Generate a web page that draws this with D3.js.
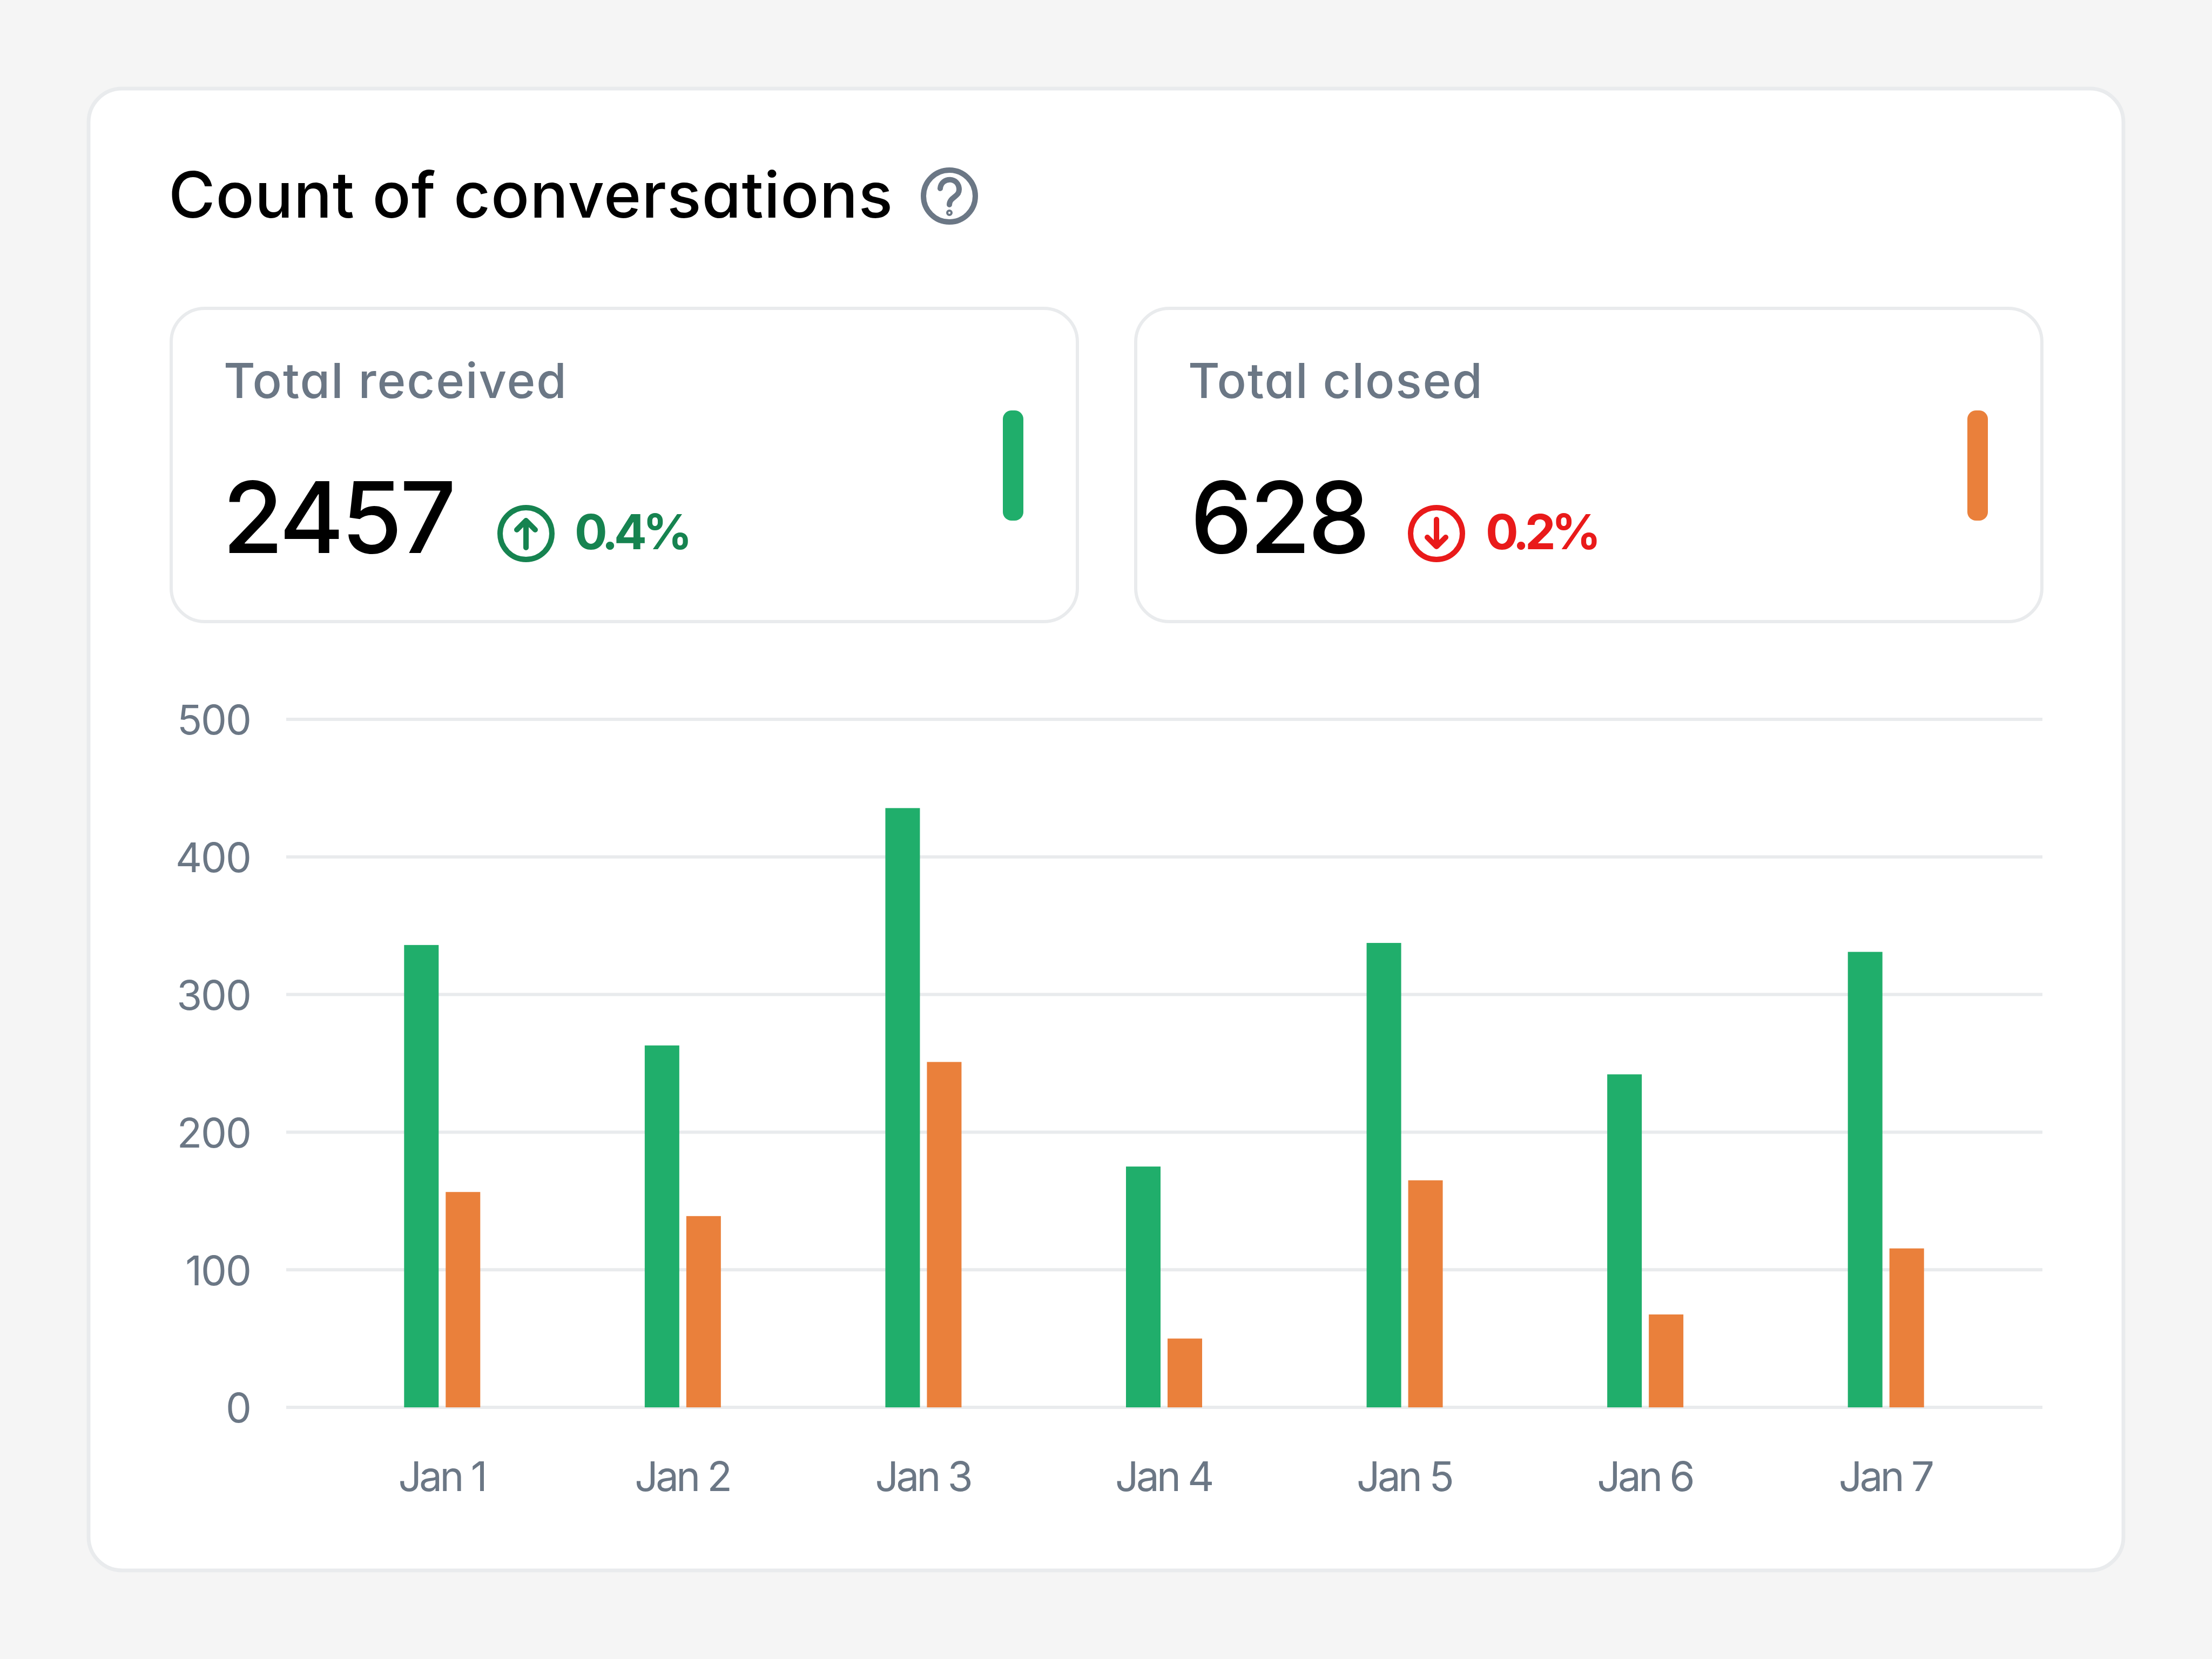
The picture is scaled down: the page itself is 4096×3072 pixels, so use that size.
<!DOCTYPE html>
<html><head><meta charset="utf-8">
<script src="https://cdn.jsdelivr.net/npm/d3@7"></script>
<style>
html,body{margin:0;padding:0;background:#f5f5f5}
svg{display:block}
text{font-family:Inter,sans-serif}
</style></head><body><svg id="c" width="4096" height="3072"></svg>
<script>
const categories=["Jan 1","Jan 2","Jan 3","Jan 4","Jan 5","Jan 6","Jan 7"];
const received=[336,263,435.5,175,337.5,242,331];
const closed=[156.5,139,251,50,165,67.5,115.5];
const yTicks=[0,100,200,300,400,500];
const seriesNames=["Total received","Total closed"];
const totals=["2457","628"];
const changes=["0.4%","0.2%"];

const svg=d3.select("#c");
const GREEN="#20ae6b",ORANGE="#ea803b",BORDER="#e9ebed",GREY="#6b7785",UP="#168350",DOWN="#e91a1a";
svg.append("rect").attr("width",4096).attr("height",3072).attr("fill","#f5f5f5");
svg.append("rect").attr("x",164).attr("y",164).attr("width",3768).attr("height",2744).attr("rx",62)
  .attr("fill","#fff").attr("stroke",BORDER).attr("stroke-width",7);
const feat="'cv11' 1";
svg.append("text").attr("x",312).attr("y",403).attr("font-size",118).attr("font-weight",500).attr("fill","#000")
  .style("font-feature-settings",feat).attr("letter-spacing",1).text("Count of conversations");
// help icon
const h=svg.append("g").attr("transform","translate(1758,363)").attr("fill","none").attr("stroke",GREY).attr("stroke-width",10).attr("stroke-linecap","round");
h.append("circle").attr("r",48);
h.append("path").attr("d","M-17,-14 C-15,-36 18,-36 18,-12 C18,2 0,2 0,16");
h.append("circle").attr("cy",31).attr("r",2).attr("stroke-width",8);

const cards=[
 {x:317,color:GREEN,name:seriesNames[0],total:totals[0],chg:changes[0],col:UP,up:true,ix:974,cx:1064,vx:412},
 {x:2103,color:ORANGE,name:seriesNames[1],total:totals[1],chg:changes[1],col:DOWN,up:false,ix:2660,cx:2751,vx:2204}];
cards.forEach(c=>{
 const g=svg.append("g");
 g.append("rect").attr("x",c.x).attr("y",571).attr("width",1678).attr("height",580).attr("rx",62).attr("fill","#fff").attr("stroke",BORDER).attr("stroke-width",6);
 g.append("text").attr("x",c.x+97).attr("y",737).attr("font-size",90).attr("font-weight",500).attr("fill",GREY).attr("letter-spacing",1.9).style("font-feature-settings",feat).text(c.name);
 g.append("text").attr("x",c.vx).attr("y",1024).attr("font-size",183).attr("font-weight",500).attr("fill","#000").attr("letter-spacing",-5).text(c.total);
 g.append("rect").attr("x",c.x+1540).attr("y",760).attr("width",38).attr("height",204).attr("rx",16).attr("fill",c.color);
 const i=g.append("g").attr("transform",`translate(${c.ix},988)`).attr("fill","none").attr("stroke",c.col).attr("stroke-width",10).attr("stroke-linecap","round").attr("stroke-linejoin","round");
 i.append("circle").attr("r",48);
 const s=c.up?1:-1;
 i.append("path").attr("d",`M0,${26*s} V${-24*s} M${-17*s},${-7*s} L0,${-24*s} L${17*s},${-7*s}`);
 g.append("text").attr("x",c.cx).attr("y",1017).attr("font-size",90).attr("font-weight",700).attr("fill",c.col).attr("letter-spacing",-7.5).text(c.chg);
});

const x=d3.scaleBand().domain(categories).range([596,3715]);
const y=d3.scaleLinear().domain([0,500]).range([2606,1332]);
const chart=svg.append("g");
chart.selectAll(".grid").data(yTicks).join("line").attr("class","grid")
  .attr("x1",530).attr("x2",3782).attr("y1",d=>y(d)).attr("y2",d=>y(d)).attr("stroke",BORDER).attr("stroke-width",6);
chart.selectAll(".yl").data(yTicks).join("text").attr("class","yl")
  .attr("x",464).attr("y",d=>y(d)+1).attr("dy","0.36em").attr("text-anchor","end").attr("font-size",76).attr("letter-spacing",-2).attr("fill",GREY).text(d=>d);
chart.selectAll(".xl").data(categories).join("text").attr("class","xl")
  .attr("x",d=>x(d)+x.bandwidth()/2-1).attr("y",2761).attr("text-anchor","middle").attr("font-size",76).attr("letter-spacing",-4.5).attr("fill",GREY).text(d=>d);
const bw=64,gap=13;
chart.selectAll(".g").data(received).join("rect").attr("class","g")
  .attr("x",(d,i)=>x(categories[i])+x.bandwidth()/2-bw-gap/2).attr("width",bw).attr("y",d=>y(d)).attr("height",d=>y(0)-y(d)).attr("fill",GREEN);
chart.selectAll(".o").data(closed).join("rect").attr("class","o")
  .attr("x",(d,i)=>x(categories[i])+x.bandwidth()/2+gap/2).attr("width",bw).attr("y",d=>y(d)).attr("height",d=>y(0)-y(d)).attr("fill",ORANGE);
</script></body></html>
